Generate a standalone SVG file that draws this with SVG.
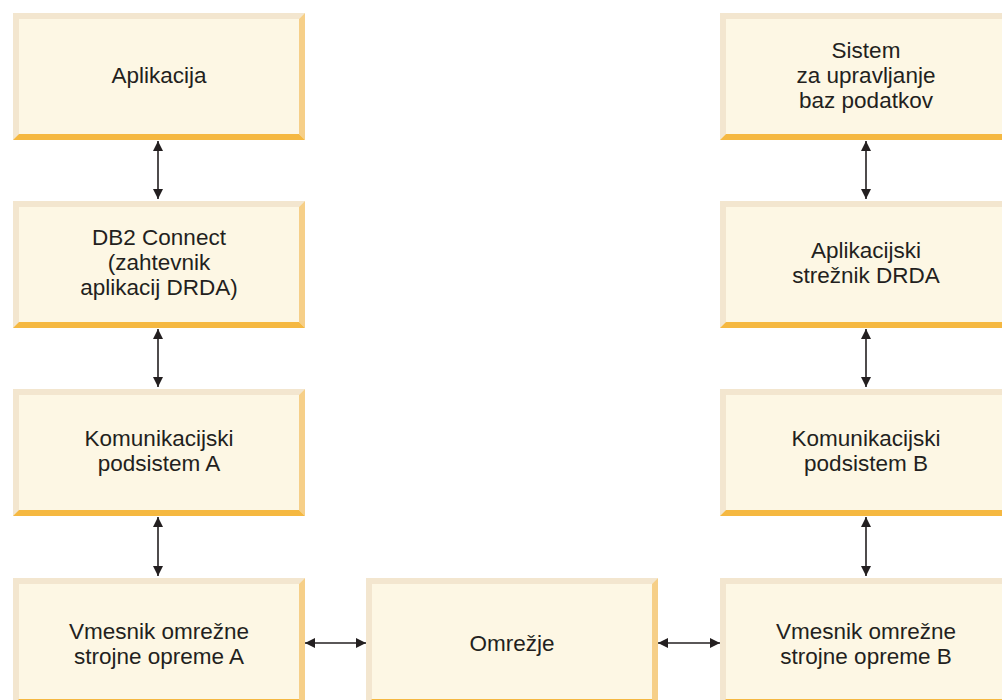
<svg xmlns="http://www.w3.org/2000/svg" width="1002" height="700" viewBox="0 0 1002 700">
<defs>
<style>
.fill{fill:#fdf7e4}
.tl{fill:#f3e6cf}
.r{fill:#f6cf88}
.b{fill:#f5b841}
text{font-family:"Liberation Sans",Arial,sans-serif;font-size:22.5px;fill:#231f20;text-anchor:middle}
.c{stroke:#231f20;stroke-width:1.6;fill:none;marker-start:url(#a);marker-end:url(#a)}
</style>
<marker id="a" viewBox="0 0 10 10" refX="10" refY="5" markerWidth="10" markerHeight="10" markerUnits="userSpaceOnUse" orient="auto-start-reverse">
<path d="M0,0 L10,5 L0,10 z" fill="#231f20"/>
</marker>
<g id="box">
<rect class="fill" x="0" y="0" width="292" height="127"/>
<polygon class="tl" points="0,0 292,0 286,6 6,6 6,121 0,127"/>
<polygon class="r" points="292,0 292,127 286,121 286,6"/>
<polygon class="b" points="0,127 292,127 286,121 6,121"/>
</g>
</defs>
<g id="n1"><use href="#box" x="13" y="13"/><text x="159" y="83">Aplikacija</text></g>
<g id="n2"><use href="#box" x="13" y="201"/><text x="159" y="245">DB2 Connect</text><text x="159" y="270">(zahtevnik</text><text x="159" y="295">aplikacij DRDA)</text></g>
<g id="n3"><use href="#box" x="13" y="389"/><text x="159" y="446">Komunikacijski</text><text x="159" y="471">podsistem A</text></g>
<g id="n4"><use href="#box" x="13" y="578"/><text x="159" y="639">Vmesnik omrežne</text><text x="159" y="664">strojne opreme A</text></g>
<g id="n5"><use href="#box" x="366" y="578"/><text x="512" y="651">Omrežje</text></g>
<g id="n6"><use href="#box" x="720" y="13"/><text x="866" y="58">Sistem</text><text x="866" y="83">za upravljanje</text><text x="866" y="108">baz podatkov</text></g>
<g id="n7"><use href="#box" x="720" y="201"/><text x="866" y="258">Aplikacijski</text><text x="866" y="283">strežnik DRDA</text></g>
<g id="n8"><use href="#box" x="720" y="389"/><text x="866" y="446">Komunikacijski</text><text x="866" y="471">podsistem B</text></g>
<g id="n9"><use href="#box" x="720" y="578"/><text x="866" y="639">Vmesnik omrežne</text><text x="866" y="664">strojne opreme B</text></g>
<g id="connectors">
<line class="c" x1="158" y1="141" x2="158" y2="199"/>
<line class="c" x1="158" y1="329" x2="158" y2="387"/>
<line class="c" x1="158" y1="517" x2="158" y2="576"/>
<line class="c" x1="866" y1="141" x2="866" y2="199"/>
<line class="c" x1="866" y1="329" x2="866" y2="387"/>
<line class="c" x1="866" y1="517" x2="866" y2="576"/>
<line class="c" x1="305" y1="643" x2="366" y2="643"/>
<line class="c" x1="658" y1="643" x2="720" y2="643"/>
</g>
</svg>
